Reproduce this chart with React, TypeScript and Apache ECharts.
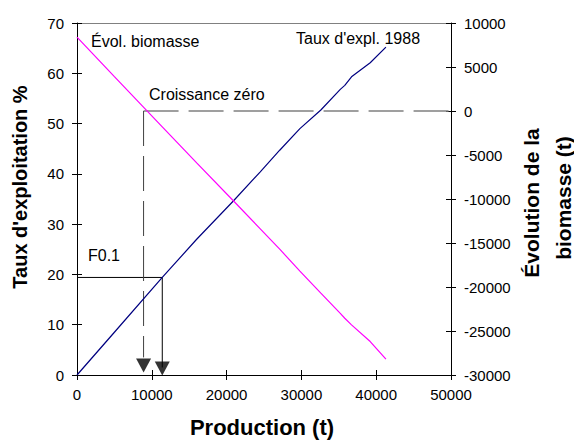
import React, { useEffect, useRef } from "react";
import * as echarts from "echarts";

// Production (t)
const production = [0, 5000, 11400, 16000, 20900, 24500, 27100, 29800, 32600, 35200, 35800, 36700, 39200, 41300];
// Taux d'exploitation % (left axis)
const tauxExpl = [0, 8.5, 19.4, 27.0, 34.6, 40.4, 44.7, 49.0, 52.7, 56.8, 57.6, 59.3, 62.1, 65.2];
// Évolution de la biomasse (t) (right axis)
const evolBiomasse = [8400, 3900, -1800, -5900, -10200, -13400, -15700, -18200, -20700, -23000, -23550, -24300, -26200, -28200];

const xTicks = { min: 0, max: 50000, interval: 10000 };
const leftTicks = { min: 0, max: 70, interval: 10 };
const rightTicks = { min: -30000, max: 10000, interval: 5000 };

// Reference points
const f01 = { production: 11400, taux: 19.4 };
const zeroGrowth = { production: 8900, biomasse: 0 };

const FONT = "'Liberation Sans', Arial, sans-serif";

export default function App() {
  const ref = useRef<HTMLDivElement>(null);
  useEffect(() => {
    document.body.style.margin = "0";
    if (!ref.current) return;
    const chart = echarts.init(ref.current, null, { renderer: "svg" });
    const labelStyle = { color: "#000", fontSize: 15, fontFamily: FONT, formatter: (v: number) => String(v) };
    const option: any = {
      animation: false,
      backgroundColor: "#fff",
      grid: { left: 77, right: 123, top: 23, bottom: 65, containLabel: false },
      xAxis: [
        {
          type: "value", position: "bottom", ...xTicks,
          axisLine: { show: true, onZero: false, lineStyle: { color: "#000", width: 1 } },
          axisTick: { show: true, inside: false, length: 5, lineStyle: { color: "#000" } },
          axisLabel: { ...labelStyle, margin: 12 },
          splitLine: { show: false },
        },
        {
          type: "value", position: "bottom", ...xTicks,
          axisLine: { show: false, onZero: false },
          axisTick: { show: true, inside: true, length: 5, lineStyle: { color: "#000" } },
          axisLabel: { show: false },
          splitLine: { show: false },
        },
        {
          type: "value", position: "top", ...xTicks,
          axisLine: { show: true, onZero: false, lineStyle: { color: "#808080", width: 1 } },
          axisTick: { show: false },
          axisLabel: { show: false },
          splitLine: { show: false },
        },
      ],
      yAxis: [
        {
          type: "value", position: "left", ...leftTicks,
          axisLine: { show: true, onZero: false, lineStyle: { color: "#000" } },
          axisTick: { show: true, inside: false, length: 5, lineStyle: { color: "#000" } },
          axisLabel: { ...labelStyle, margin: 13 },
          splitLine: { show: false },
        },
        {
          type: "value", position: "right", ...rightTicks,
          axisLine: { show: true, onZero: false, lineStyle: { color: "#000" } },
          axisTick: { show: true, inside: false, length: 5, lineStyle: { color: "#000" } },
          axisLabel: { ...labelStyle, margin: 13 },
          splitLine: { show: false },
        },
        {
          type: "value", position: "left", ...leftTicks,
          axisLine: { show: false, onZero: false },
          axisTick: { show: true, inside: true, length: 5, lineStyle: { color: "#000" } },
          axisLabel: { show: false },
          splitLine: { show: false },
        },
        {
          type: "value", position: "right", ...rightTicks,
          axisLine: { show: false, onZero: false },
          axisTick: { show: true, inside: true, length: 5, lineStyle: { color: "#000" } },
          axisLabel: { show: false },
          splitLine: { show: false },
        },
      ],
      series: [
        {
          name: "Taux d'expl. 1988", type: "line", xAxisIndex: 0, yAxisIndex: 0,
          data: production.map((p, i) => [p, tauxExpl[i]]),
          showSymbol: false, lineStyle: { color: "#000080", width: 1.2 }, z: 3,
        },
        {
          name: "Évol. biomasse", type: "line", xAxisIndex: 0, yAxisIndex: 1,
          data: production.map((p, i) => [p, evolBiomasse[i]]),
          showSymbol: false, lineStyle: { color: "#FF00FF", width: 1.2 }, z: 3,
        },
        {
          name: "F0.1", type: "line", xAxisIndex: 0, yAxisIndex: 0,
          data: [[xTicks.min, f01.taux], [f01.production, f01.taux], [f01.production, 1.5]],
          showSymbol: false, lineStyle: { color: "#000", width: 1 }, z: 2,
        },
        {
          name: "zeroH", type: "line", xAxisIndex: 0, yAxisIndex: 1,
          data: [[zeroGrowth.production, zeroGrowth.biomasse], [xTicks.max, zeroGrowth.biomasse]],
          showSymbol: false, lineStyle: { color: "#808080", width: 1.5, type: [35, 10] }, z: 2,
        },
        {
          name: "zeroV", type: "line", xAxisIndex: 0, yAxisIndex: 1,
          data: [[zeroGrowth.production, zeroGrowth.biomasse], [zeroGrowth.production, -28000]],
          showSymbol: false, lineStyle: { color: "#404040", width: 1, type: [35, 10] }, z: 2,
        },
        {
          name: "arrows", type: "scatter", xAxisIndex: 0, yAxisIndex: 0,
          data: [[zeroGrowth.production, 1.9], [f01.production, 1.3]],
          symbol: "triangle", symbolRotate: 180, symbolSize: [15, 14],
          itemStyle: { color: "#000" }, z: 4,
        },
      ],
      graphic: [
        { type: "text", left: 91, top: 33, style: { text: "Évol. biomasse", fontSize: 16, fontFamily: FONT, fill: "#000" } },
        { type: "text", left: 296, top: 30, style: { text: "Taux d'expl. 1988", fontSize: 16, fontFamily: FONT, fill: "#000" } },
        { type: "text", left: 149, top: 86, style: { text: "Croissance zéro", fontSize: 16, fontFamily: FONT, fill: "#000" } },
        { type: "text", left: 88, top: 247, style: { text: "F0.1", fontSize: 16, fontFamily: FONT, fill: "#000" } },
        {
          type: "text", x: 20, y: 187, rotation: Math.PI / 2,
          style: { text: "Taux d'exploitation %", fontSize: 20, fontWeight: "bold", fontFamily: FONT, fill: "#000", align: "center", verticalAlign: "middle" },
        },
        {
          type: "text", x: 262, y: 427,
          style: { text: "Production (t)", fontSize: 22, fontWeight: "bold", fontFamily: FONT, fill: "#000", align: "center", verticalAlign: "middle" },
        },
        {
          type: "text", x: 531, y: 203, rotation: Math.PI / 2,
          style: { text: "Évolution de la", fontSize: 21, fontWeight: "bold", fontFamily: FONT, fill: "#000", align: "center", verticalAlign: "middle" },
        },
        {
          type: "text", x: 563, y: 198, rotation: Math.PI / 2,
          style: { text: "biomasse (t)", fontSize: 21, fontWeight: "bold", fontFamily: FONT, fill: "#000", align: "center", verticalAlign: "middle" },
        },
      ],
    };
    chart.setOption(option);
    return () => chart.dispose();
  }, []);
  return <div ref={ref} style={{ width: 574, height: 440 }} />;
}
